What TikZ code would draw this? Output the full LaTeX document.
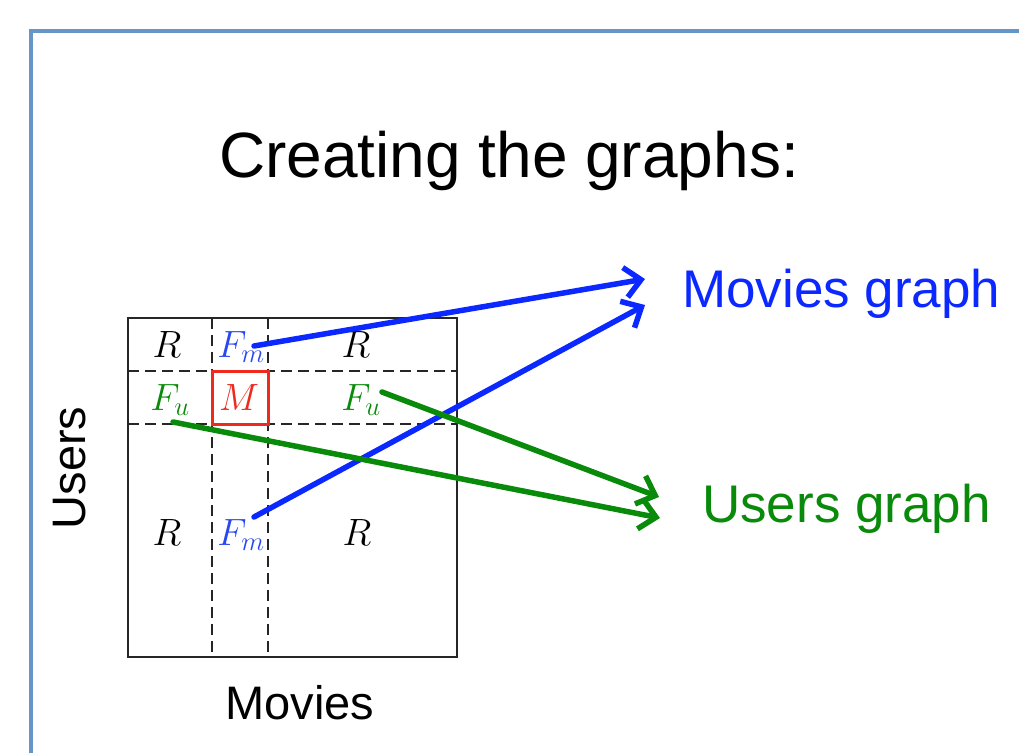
\documentclass[tikz,border=0pt]{standalone}
\usepackage{fix-cm}
\usepackage{fontspec}
\setmainfont{Liberation Sans}
\usetikzlibrary{arrows.meta}
\definecolor{frameblue}{HTML}{6496C8}
\definecolor{myblue}{HTML}{0A28FF}
\definecolor{mytext}{HTML}{2848F0}
\definecolor{mygreen}{HTML}{0A8A0A}
\definecolor{myred}{HTML}{EE2A1E}
\begin{document}
\begin{tikzpicture}[x=1pt,y=-1pt,
  mathlbl/.style={anchor=base,inner sep=0pt,font=\fontsize{38}{44}\selectfont},
  sep/.style={draw=black!85,line width=2.3pt,dash pattern=on 11pt off 6pt},
  conn/.style={line width=5.5pt,line cap=round,-{Straight Barb[length=16pt,width=30pt]}},
  lbl/.style={anchor=base,inner sep=0pt}]
\useasboundingbox (0,0) rectangle (1019,752);
% frame
\draw[frameblue,line width=4.5pt] (31,760) -- (31,31) -- (1030,31);
% title
\node[lbl,font=\fontsize{64}{70}\selectfont] (title) at (509,177) {Creating the graphs:};
% matrix
\draw[black!85,line width=2.5pt] (128,318) rectangle (457,657);
\draw[sep] (128,371) -- (457,371);
\draw[sep] (128,424) -- (457,424);
\draw[sep] (212,318) -- (212,657);
\draw[sep] (268,318) -- (268,657);
\draw[myred,line width=3pt] (212,371) rectangle (268,424);
% labels in matrix
\node[mathlbl] (r11) at (167,357) {$R$};
\node[mathlbl,text=mytext] (fm1) at (241,357) {$F_m$};
\node[mathlbl] (r13) at (356,357) {$R$};
\node[mathlbl,text=mygreen] (fu1) at (170,410) {$F_u$};
\node[mathlbl,text=myred] (mm) at (239,410) {$M$};
\node[mathlbl,text=mygreen] (fu2) at (361,410) {$F_u$};
\node[mathlbl] (r31) at (167,545) {$R$};
\node[mathlbl,text=mytext] (fm2) at (241,545) {$F_m$};
\node[mathlbl] (r33) at (357,545) {$R$};
% axis labels
\node[lbl,font=\fontsize{47}{52}\selectfont] (movies) at (300,719) {Movies};
\node[font=\fontsize{47}{52}\selectfont,rotate=90,inner sep=0pt] (users) at (70,468) {Users};
% graph labels
\node[lbl,anchor=base west,text=myblue,font=\fontsize{53}{58}\selectfont] (mg) at (682,307) {Movies graph};
\node[lbl,anchor=base west,text=mygreen,font=\fontsize{53}{58}\selectfont] (ug) at (702,522) {Users graph};
% connector ends
\coordinate (s1) at (254,346);
\coordinate (s2) at (254,517);
\coordinate (s3) at (382,392);
\coordinate (s4) at (173,422);
\coordinate (t1) at (645,279);
\coordinate (t2) at (645,305);
\coordinate (t3) at (659,497);
\coordinate (t4) at (660,518);
\draw[conn,myblue] (s1) -- (t1);
\draw[conn,myblue] (s2) -- (t2);
\draw[conn,mygreen] (s3) -- (t3);
\draw[conn,mygreen] (s4) -- (t4);
\end{tikzpicture}
\end{document}
